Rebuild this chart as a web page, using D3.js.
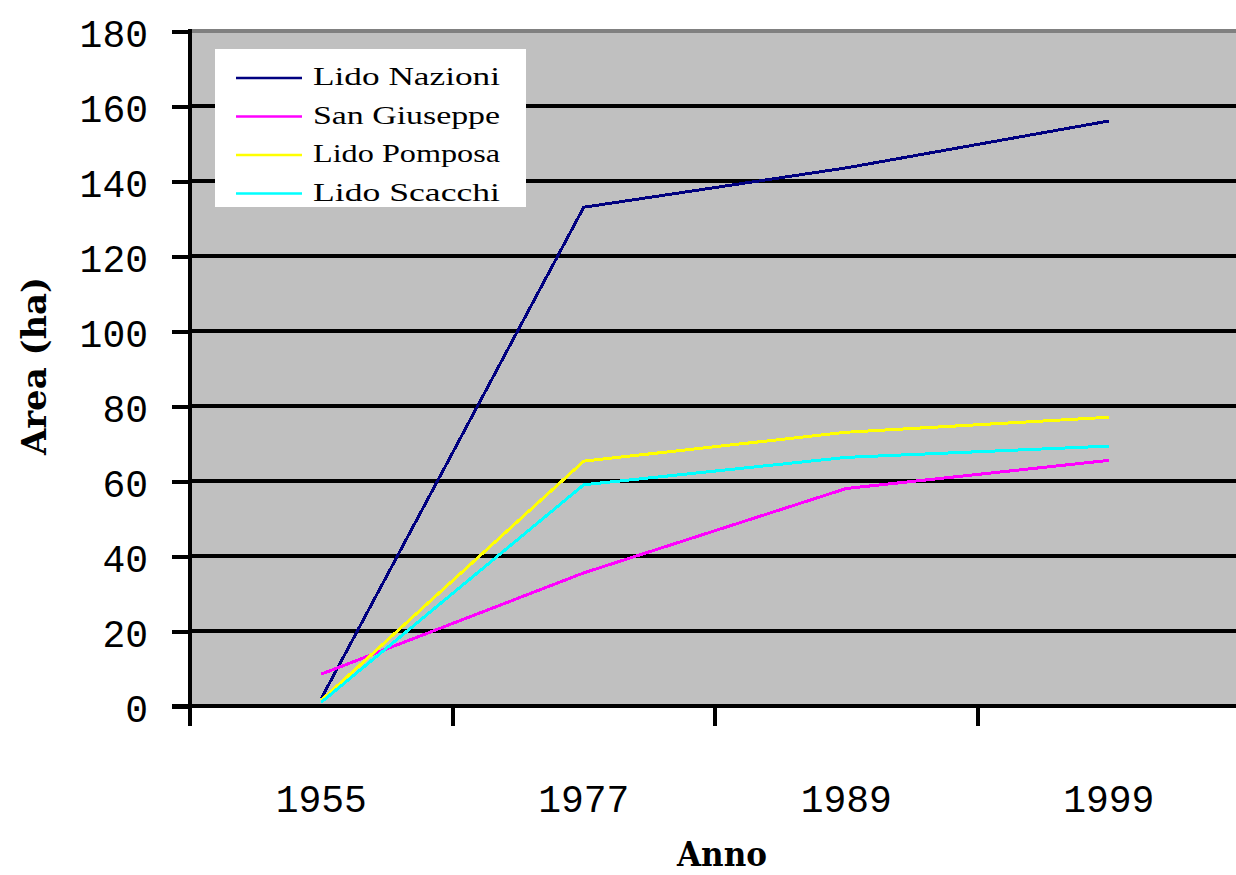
<!DOCTYPE html>
<html>
<head>
<meta charset="utf-8">
<script src="https://cdn.jsdelivr.net/npm/d3@7"></script>
<style>
  html, body { margin: 0; padding: 0; background: #fff; }
  svg { display: block; }
</style>
</head>
<body>
<svg id="chart" width="1236" height="875"></svg>
<script>
// Anni di rilievo (asse delle categorie)
const years = ["1955", "1977", "1989", "1999"];

// Superficie (ha) per località
const lidoNazioni = [2, 133, 143.5, 156];
const sanGiuseppe = [8.5, 35.5, 58, 65.5];
const lidoPomposa = [1.5, 65.3, 73, 77];
const lidoScacchi = [1, 59, 66.3, 69.3];

const seriesNames = ["Lido Nazioni", "San Giuseppe", "Lido Pomposa", "Lido Scacchi"];
const seriesColors = ["#000080", "#ff00ff", "#ffff00", "#00ffff"];
const seriesValues = [lidoNazioni, sanGiuseppe, lidoPomposa, lidoScacchi];

const yTicks = [0, 20, 40, 60, 80, 100, 120, 140, 160, 180];

const MONO = "'Liberation Mono', 'DejaVu Sans Mono', monospace";
const SERIF = "'Liberation Serif', 'DejaVu Serif', serif";
const SLAB = "'DejaVu Serif', 'Liberation Serif', serif";

const svg = d3.select("#chart");

const plot = { left: 190, right: 1240, top: 31, bottom: 706 };

const x = d3.scaleBand().domain(years).range([plot.left, plot.right]);
const y = d3.scaleLinear().domain([0, 180]).range([plot.bottom, plot.top]);

// Plot area
svg.append("rect")
  .attr("x", plot.left).attr("y", plot.top)
  .attr("width", plot.right - plot.left).attr("height", plot.bottom - plot.top)
  .attr("fill", "#c0c0c0");

// Horizontal gridlines
svg.append("g")
  .selectAll("line")
  .data(yTicks.filter(d => d > 0 && d < 180))
  .join("line")
  .attr("x1", plot.left).attr("x2", plot.right)
  .attr("y1", d => y(d)).attr("y2", d => y(d))
  .attr("stroke", "#000").attr("stroke-width", 4)
  .attr("shape-rendering", "crispEdges");

// Top border of plot area
svg.append("line")
  .attr("x1", plot.left).attr("x2", plot.right)
  .attr("y1", y(180)).attr("y2", y(180))
  .attr("stroke", "#808080").attr("stroke-width", 4)
  .attr("shape-rendering", "crispEdges");

// Y axis
const yAxis = d3.axisLeft(y)
  .tickValues(yTicks)
  .tickSize(18)
  .tickPadding(24)
  .tickFormat(d3.format("d"));

const gy = svg.append("g")
  .attr("transform", `translate(${plot.left},0)`)
  .call(yAxis);
gy.select(".domain").remove();
gy.selectAll(".tick line")
  .attr("stroke", "#000").attr("stroke-width", 4)
  .attr("shape-rendering", "crispEdges");
gy.selectAll(".tick text")
  .style("font-family", MONO)
  .style("font-size", "38px")
  .attr("dy", "0.42em")
  .attr("fill", "#000");

svg.append("line")
  .attr("x1", plot.left).attr("x2", plot.left)
  .attr("y1", plot.top - 2).attr("y2", plot.bottom + 2)
  .attr("stroke", "#000").attr("stroke-width", 4)
  .attr("shape-rendering", "crispEdges");

// X axis
svg.append("line")
  .attr("x1", plot.left - 18).attr("x2", plot.right)
  .attr("y1", plot.bottom).attr("y2", plot.bottom)
  .attr("stroke", "#000").attr("stroke-width", 4)
  .attr("shape-rendering", "crispEdges");

const tickEdges = years.map(d => x(d)).concat([x(years[years.length - 1]) + x.bandwidth()]);
svg.append("g")
  .selectAll("line")
  .data(tickEdges)
  .join("line")
  .attr("x1", d => d).attr("x2", d => d)
  .attr("y1", plot.bottom).attr("y2", plot.bottom + 20)
  .attr("stroke", "#000").attr("stroke-width", 4)
  .attr("shape-rendering", "crispEdges");

svg.append("g")
  .selectAll("text")
  .data(years)
  .join("text")
  .attr("x", d => x(d) + x.bandwidth() / 2)
  .attr("y", 812)
  .attr("text-anchor", "middle")
  .style("font-family", MONO)
  .style("font-size", "38px")
  .attr("fill", "#000")
  .text(d => d);

// Axis titles
svg.append("text")
  .attr("x", 722).attr("y", 866)
  .attr("text-anchor", "middle")
  .style("font-family", SLAB)
  .style("font-weight", "bold")
  .style("font-size", "34px")
  .attr("textLength", 90).attr("lengthAdjust", "spacingAndGlyphs")
  .attr("fill", "#000")
  .text("Anno");

svg.append("text")
  .attr("transform", "translate(46,366) rotate(-90)")
  .attr("text-anchor", "middle")
  .style("font-family", SLAB)
  .style("font-weight", "bold")
  .style("font-size", "34px")
  .attr("textLength", 178).attr("lengthAdjust", "spacingAndGlyphs")
  .attr("fill", "#000")
  .text("Area (ha)");

// Series lines
const line = d3.line()
  .x((d, i) => x(years[i]) + x.bandwidth() / 2)
  .y(d => y(d));

svg.append("g")
  .selectAll("path")
  .data(seriesValues)
  .join("path")
  .attr("d", d => line(d))
  .attr("fill", "none")
  .attr("stroke", (d, i) => seriesColors[i])
  .attr("stroke-width", 3)
  .attr("stroke-linejoin", "round")
  .attr("shape-rendering", "crispEdges");

// Legend
const legend = svg.append("g");
legend.append("rect")
  .attr("x", 215).attr("y", 49)
  .attr("width", 311).attr("height", 158)
  .attr("fill", "#fff");

const items = legend.selectAll("g.item")
  .data(seriesNames)
  .join("g")
  .attr("class", "item")
  .attr("transform", (d, i) => `translate(0,${78 + i * 38.5})`);

items.append("line")
  .attr("x1", 236).attr("x2", 302)
  .attr("y1", 0).attr("y2", 0)
  .attr("stroke", (d, i) => seriesColors[i])
  .attr("stroke-width", 2.5);

items.append("text")
  .attr("x", 313).attr("y", 7)
  .style("font-family", SERIF)
  .style("font-size", "25px")
  .attr("textLength", d => d.length * 15.75 - 2)
  .attr("lengthAdjust", "spacingAndGlyphs")
  .attr("fill", "#000")
  .text(d => d);
</script>
</body>
</html>
